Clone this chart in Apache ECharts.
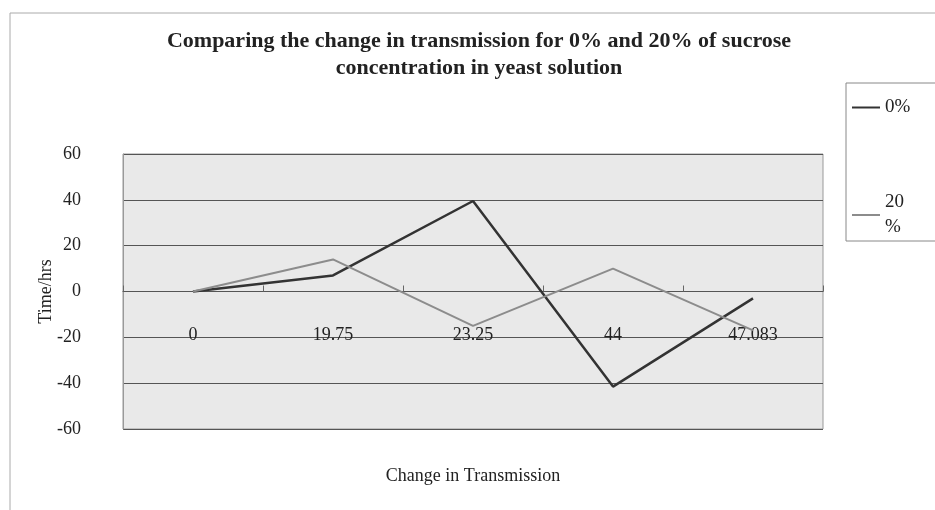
<!DOCTYPE html>
<html>
<head>
<meta charset="utf-8">
<script src="https://cdn.jsdelivr.net/npm/echarts@6/dist/echarts.min.js"></script>
<style>
  html, body { margin: 0; padding: 0; background: #fff; }
  #chart { width: 935px; height: 510px; }
</style>
</head>
<body>
<div id="chart"></div>
<script>
// data
var categories = ['0', '19.75', '23.25', '44', '47.083'];
var series0 = [0, 7, 39.5, -41.5, -3];
var series20 = [0, 14, -15, 10, -17];
var seriesNames = ['0%', '20%'];
var yTicks = { min: -60, max: 60, step: 20 };

(function(){
  var serif = '"Liberation Serif", "DejaVu Serif", serif';
  var option = {
    backgroundColor: '#fff',
    animation: false,
    graphic: [{
      type: 'rect',
      shape: { x: 10, y: 13, width: 940, height: 510 },
      style: { fill: 'none', stroke: '#aaa', lineWidth: 1 }
    }],
    title: {
      text: 'Comparing the change in transmission for 0% and 20% of sucrose\nconcentration in yeast solution',
      left: 474,
      top: 23,
      textAlign: 'center',
      textStyle: {
        fontFamily: serif,
        fontWeight: 'bold',
        fontSize: 22,
        lineHeight: 27,
        color: '#222'
      }
    },
    legend: {
      data: seriesNames,
      orient: 'vertical',
      left: 846,
      top: 83,
      padding: [12, 40, 1, 6],
      itemGap: 70,
      itemWidth: 28,
      itemHeight: 2,
      backgroundColor: '#fff',
      borderColor: '#888',
      borderWidth: 1,
      icon: 'rect',
      textStyle: {
        fontFamily: serif,
        fontSize: 19,
        color: '#222',
        width: 28,
        overflow: 'break',
        lineHeight: 25
      }
    },
    grid: {
      left: 123,
      right: 112,
      top: 154,
      bottom: 81,
      outerBoundsMode: 'none',
      containLabel: false,
      show: true,
      backgroundColor: '#e9e9e9',
      borderColor: '#999',
      borderWidth: 1
    },
    xAxis: {
      type: 'category',
      data: categories,
      boundaryGap: true,
      name: 'Change in Transmission',
      nameLocation: 'middle',
      nameGap: 38,
      nameTextStyle: { fontFamily: serif, fontSize: 18, color: '#222' },
      axisLine: { onZero: true, lineStyle: { color: '#555', width: 1 } },
      axisTick: { show: true, inside: true, length: 6, lineStyle: { color: '#666' } },
      axisLabel: {
        margin: -103,
        fontFamily: serif,
        fontSize: 18,
        color: '#222'
      },
      splitLine: { show: false }
    },
    yAxis: {
      type: 'value',
      min: yTicks.min,
      max: yTicks.max,
      interval: yTicks.step,
      name: 'Time/hrs',
      nameLocation: 'middle',
      nameGap: 68,
      nameMoveOverlap: false,
      nameTextStyle: { fontFamily: serif, fontSize: 18, color: '#222' },
      axisLine: { show: true, lineStyle: { color: '#999' } },
      axisTick: { show: false },
      axisLabel: {
        margin: 42,
        align: 'right',
        fontFamily: serif,
        fontSize: 18,
        color: '#222'
      },
      splitLine: { show: true, lineStyle: { color: '#555', width: 1 } }
    },
    series: [
      {
        name: seriesNames[0],
        type: 'line',
        data: series0,
        symbol: 'none',
        lineStyle: { color: '#333', width: 2.5 },
        itemStyle: { color: '#333' }
      },
      {
        name: seriesNames[1],
        type: 'line',
        data: series20,
        symbol: 'none',
        lineStyle: { color: '#8c8c8c', width: 2 },
        itemStyle: { color: '#8c8c8c' }
      }
    ]
  };
  var myChart = echarts.init(document.getElementById('chart'));
  myChart.setOption(option);
})();
</script>
</body>
</html>
